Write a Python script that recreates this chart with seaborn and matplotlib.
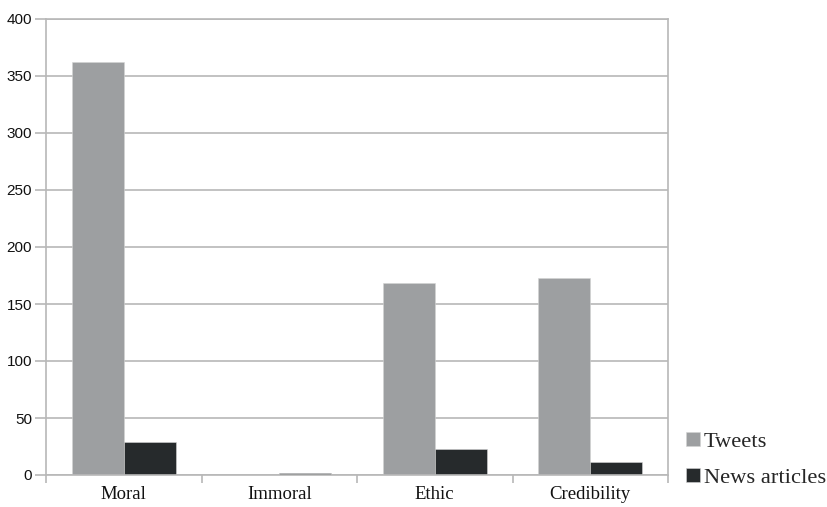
import matplotlib
matplotlib.use("Agg")
import matplotlib.pyplot as plt
import seaborn as sns
import pandas as pd
from matplotlib.patches import Patch

categories = ["Moral", "Immoral", "Ethic", "Credibility"]
tweets = [362, 0, 168, 173]
news_articles = [29, 2, 23, 11]
series_names = ["Tweets", "News articles"]
y_ticks = [0, 50, 100, 150, 200, 250, 300, 350, 400]

df = pd.DataFrame({
    "category": categories * 2,
    "count": tweets + news_articles,
    "source": [series_names[0]] * len(categories) + [series_names[1]] * len(categories),
})

sns.set_theme(style="white")
plt.rcParams["font.family"] = ["Liberation Sans", "DejaVu Sans"]

colors = {"Tweets": "#9d9fa1", "News articles": "#262a2c"}
grid_color = "#b8b8b8"

fig = plt.figure(figsize=(8.27, 5.07), dpi=100)
ax = fig.add_axes([46 / 827, 1 - 475 / 507, (668 - 46) / 827, (475 - 19) / 507])

sns.barplot(data=df, x="category", y="count", hue="source", order=categories,
            hue_order=series_names, palette=colors, width=0.67, ax=ax,
            edgecolor="#d4d4d4", linewidth=0.4, legend=False, saturation=1)

ax.set_ylim(0, 400)
ax.set_xlim(-0.5, len(categories) - 0.5)
ax.set_yticks(y_ticks)
ax.yaxis.grid(True, color=grid_color, linewidth=1.2)
ax.set_axisbelow(True)
ax.set_xlabel("")
ax.set_ylabel("")

for s in ax.spines.values():
    s.set_color(grid_color)
    s.set_linewidth(1.2)

ax.tick_params(axis="y", which="major", length=8, width=1.2, color=grid_color,
               labelsize=11, pad=2, left=True, labelcolor="#111111")
ax.set_xticks(range(len(categories)))
ax.set_xticklabels(categories, fontfamily=["Liberation Serif", "DejaVu Serif"],
                   fontsize=13.5, color="#111111")
ax.tick_params(axis="x", which="major", length=0, pad=8)
ax.set_xticks([i - 0.5 for i in range(len(categories) + 1)], minor=True)
ax.tick_params(axis="x", which="minor", length=6, width=1.2, color=grid_color, bottom=True)

handles = [Patch(facecolor=colors[n], edgecolor="#d4d4d4", linewidth=0.4) for n in series_names]
fig.legend(handles, series_names, loc="center left",
           bbox_to_anchor=(686 / 827, 1 - 460 / 507), frameon=False,
           prop={"family": ["Liberation Serif", "DejaVu Serif"], "size": 16.2},
           handlelength=0.6, handleheight=0.6, handletextpad=0.2,
           labelspacing=0.7, borderaxespad=0, borderpad=0)

fig.savefig("out.png", dpi=100)
